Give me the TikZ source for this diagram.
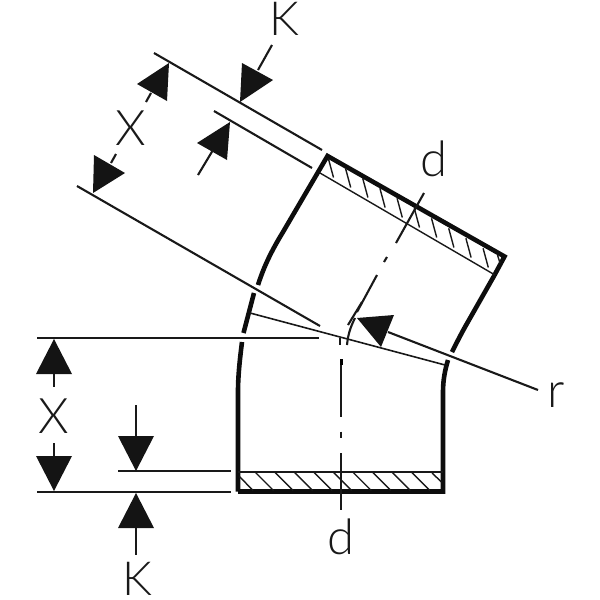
\documentclass[tikz,border=0pt]{standalone}
\usepackage{fontspec}
\setmainfont{Liberation Sans}
\newfontfamily\lblfont{Lato Light}
\tikzset{
  thinline/.style={line width=2.1pt,black!90},
  hatchline/.style={line width=1.4pt,black!90},
  wall/.style={line width=4.6pt,black!95,line join=miter},
  tri/.style={fill=black!92,draw=none},
  lbl/.style={font=\lblfont\fontsize{49}{49}\selectfont,inner sep=0pt,text=black!90},
  lblk/.style={font=\lblfont\fontsize{47}{47}\selectfont,inner sep=0pt,text=black!90}
}
\begin{document}
\begin{tikzpicture}[x=1pt,y=-1pt]
\useasboundingbox (0,0) rectangle (600,600);
% outer wall
\draw[wall] (238,491.5) -- (443,491.5) -- (443,392) .. controls (443,380) and (445,370) .. (448,360);
\draw[wall] (238,491.5) -- (238,392) .. controls (238,375) and (240,358) .. (242,342);
\draw[wall] (243.5,333) -- (254,293);
\draw[wall] (258,285) .. controls (264,266) and (272,250) .. (283,232) -- (327.5,156) -- (504.5,256.5) -- (494,276) -- (465,327) .. controls (460,336) and (456,344) .. (452,352);
% wall inner lines
\draw[hatchline] (320,173) -- (495,275);
\draw[thinline] (238,472) -- (443,472);
% hatching top
\foreach \i in {0,...,9} {
  \draw[hatchline] ({328.3+17.2*\i},{158.3+10*\i}) -- ({333.5+17.2*\i},{177.5+10*\i});
}
\draw[hatchline] (497.5,255) -- (500,263);
% hatching bottom
\draw[hatchline] (239.5,476.5) -- (253,490.5);
\foreach \i in {0,...,8} {
  \draw[hatchline] ({255+19.55*\i},472) -- ({273.5+19.55*\i},490.5);
}
\draw[hatchline] (432,473) -- (441.5,482);
% thin chord
\draw[line width=1.6pt,black!90] (250,313) -- (445,365);
% dimension lines
\draw[thinline] (154,53) -- (322,150);
\draw[thinline] (214,111) -- (312,168);
\draw[thinline] (77,186) -- (320,326);
\draw[thinline] (37,338) -- (319,338);
\draw[thinline] (118,471) -- (231,471);
\draw[thinline] (37,492) -- (231,492);
\draw[thinline] (388,332) -- (538,390);
% centre line
\draw[thinline] (341,359) -- (341,417);
\draw[thinline] (341,431.5) -- (341,438);
\draw[thinline] (341,453) -- (341,510);
\draw[line width=3.4pt] (341.5,359) -- (341.5,365);
\draw[thinline] (340,338) -- (340,345);
\draw[thinline] (347,345) .. controls (348,335) and (350,328) .. (355,318);
\draw[thinline] (348,325) -- (362,302);
\draw[thinline] (357,312) -- (377,275);
\draw[thinline] (384,262) -- (387,257);
\draw[thinline] (396,243) -- (424,193);
% arrow heads
\fill[tri] (242,63) -- (273,80) -- (240,102) -- cycle;
\draw[thinline] (272,45) -- (258,70);
\fill[tri] (230,122) -- (197,143) -- (227,160) -- cycle;
\draw[thinline] (213,150) -- (198,175);
\fill[tri] (169,63) -- (137,84) -- (167,101) -- cycle;
\draw[thinline] (151,93) -- (146,102);
\fill[tri] (94,155) -- (125,173) -- (93,193) -- cycle;
\draw[thinline] (116,154) -- (111,163);
\fill[tri] (357,318) -- (394,315) -- (381,347) -- cycle;
\fill[tri] (54,339) -- (36,374) -- (72,374) -- cycle;
\draw[thinline] (54,374) -- (54,387);
\fill[tri] (54,491) -- (36,456) -- (72,456) -- cycle;
\draw[thinline] (54,456) -- (54,443);
\fill[tri] (136,471) -- (118,436) -- (154,436) -- cycle;
\draw[thinline] (136,436) -- (136,405);
\fill[tri] (136,493) -- (118,528) -- (154,528) -- cycle;
\draw[thinline] (136,528) -- (136,555);
% labels
\node[lblk] (ktop) at (284,18.5) {K};
\node[lbl] (xtop) at (131,128) {X};
\node[lbl] (dtop) at (434,159) {d};
\node[lbl] (rlab) at (556,395) {r};
\node[lbl] (xbot) at (54,416) {X};
\node[lbl] (dbot) at (341,537) {d};
\node[lblk] (kbot) at (137,579) {K};
\end{tikzpicture}
\end{document}
